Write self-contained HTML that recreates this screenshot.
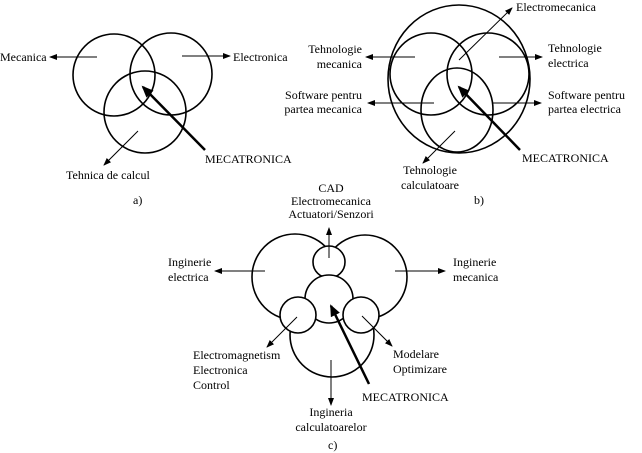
<!DOCTYPE html>
<html><head><meta charset="utf-8"><style>
html,body{margin:0;padding:0;background:#fff;}
svg{display:block;}
text{font-family:"Liberation Serif",serif;font-size:12px;fill:#000;}
</style></head><body>
<svg width="642" height="453" viewBox="0 0 642 453" xmlns="http://www.w3.org/2000/svg">
<defs>
<marker id="ah" markerWidth="8" markerHeight="6" refX="7" refY="3" orient="auto" markerUnits="userSpaceOnUse"><path d="M0,0 L8,3 L0,6 z" fill="#000"/></marker>
<marker id="ahb" markerWidth="12" markerHeight="10" refX="10" refY="5" orient="auto" markerUnits="userSpaceOnUse"><path d="M0,0 L12,5 L0,10 z" fill="#000"/></marker>
</defs>
<g fill="none" stroke="#000" stroke-width="1.6">
<!-- a -->
<circle cx="114" cy="75" r="41"/>
<circle cx="171" cy="74" r="41"/>
<circle cx="145" cy="112" r="41"/>
<!-- b -->
<ellipse cx="459" cy="79" rx="71" ry="74"/>
<circle cx="431" cy="74" r="41"/>
<circle cx="488" cy="74" r="41"/>
<ellipse cx="457" cy="110" rx="36" ry="42"/>
</g>
<g stroke="#000" stroke-width="1" fill="none">
<line x1="97" y1="57" x2="50" y2="57" marker-end="url(#ah)"/>
<line x1="182" y1="56" x2="230" y2="56" marker-end="url(#ah)"/>
<line x1="138" y1="131" x2="104" y2="165" marker-end="url(#ah)"/>
<line x1="459" y1="60" x2="512" y2="8" marker-end="url(#ah)"/>
<line x1="415" y1="57" x2="366" y2="57" marker-end="url(#ah)"/>
<line x1="499" y1="57" x2="542" y2="57" marker-end="url(#ah)"/>
<line x1="434" y1="103" x2="368" y2="103" marker-end="url(#ah)"/>
<line x1="492" y1="103" x2="541" y2="103" marker-end="url(#ah)"/>
<line x1="455" y1="131" x2="423" y2="163" marker-end="url(#ah)"/>
</g>
<g stroke="#000" stroke-width="2.5">
<line x1="205" y1="150" x2="143" y2="87" marker-end="url(#ahb)"/>
<line x1="520" y1="150" x2="459" y2="87" marker-end="url(#ahb)"/>
</g>
<!-- c -->
<g fill="#fff" stroke="#000" stroke-width="1.6">
<circle cx="295" cy="277" r="43"/>
<circle cx="365" cy="277" r="42"/>
<circle cx="332" cy="335" r="42"/>
<circle cx="329" cy="262" r="16"/>
<circle cx="329" cy="299" r="24"/>
<circle cx="298" cy="315" r="18"/>
<circle cx="361" cy="315" r="18"/>
</g>
<g stroke="#000" stroke-width="1" fill="none">
<line x1="329" y1="258" x2="329" y2="228" marker-end="url(#ah)"/>
<line x1="265" y1="271" x2="215" y2="271" marker-end="url(#ah)"/>
<line x1="395" y1="271" x2="445" y2="271" marker-end="url(#ah)"/>
<line x1="331" y1="360" x2="331" y2="405" marker-end="url(#ah)"/>
<line x1="297" y1="317" x2="267" y2="347" marker-end="url(#ah)"/>
<line x1="362" y1="316" x2="392" y2="346" marker-end="url(#ah)"/>
</g>
<line x1="369" y1="384" x2="331" y2="306" stroke="#000" stroke-width="2.5" marker-end="url(#ahb)"/>
<!-- labels a -->
<text x="0" y="61">Mecanica</text>
<text x="233" y="61">Electronica</text>
<text x="66" y="179">Tehnica de calcul</text>
<text x="205" y="163">MECATRONICA</text>
<text x="133" y="204">a)</text>
<!-- labels b -->
<text x="516" y="11">Electromecanica</text>
<text x="362" y="53" text-anchor="end">Tehnologie</text>
<text x="362" y="68" text-anchor="end">mecanica</text>
<text x="548" y="52">Tehnologie</text>
<text x="548" y="67">electrica</text>
<text x="362" y="99" text-anchor="end">Software pentru</text>
<text x="362" y="113" text-anchor="end">partea mecanica</text>
<text x="548" y="99">Software pentru</text>
<text x="548" y="113">partea electrica</text>
<text x="430" y="174" text-anchor="middle">Tehnologie</text>
<text x="430" y="189" text-anchor="middle">calculatoare</text>
<text x="522" y="162">MECATRONICA</text>
<text x="474" y="204">b)</text>
<!-- labels c -->
<text x="331" y="192" text-anchor="middle">CAD</text>
<text x="331" y="205" text-anchor="middle">Electromecanica</text>
<text x="331" y="218" text-anchor="middle">Actuatori/Senzori</text>
<text x="168" y="266">Inginerie</text>
<text x="168" y="281">electrica</text>
<text x="453" y="266">Inginerie</text>
<text x="453" y="281">mecanica</text>
<text x="193" y="359">Electromagnetism</text>
<text x="193" y="374">Electronica</text>
<text x="193" y="389">Control</text>
<text x="393" y="358">Modelare</text>
<text x="393" y="373">Optimizare</text>
<text x="362" y="401">MECATRONICA</text>
<text x="331" y="416" text-anchor="middle">Ingineria</text>
<text x="331" y="431" text-anchor="middle">calculatoarelor</text>
<text x="328" y="449">c)</text>
</svg>
</body></html>
